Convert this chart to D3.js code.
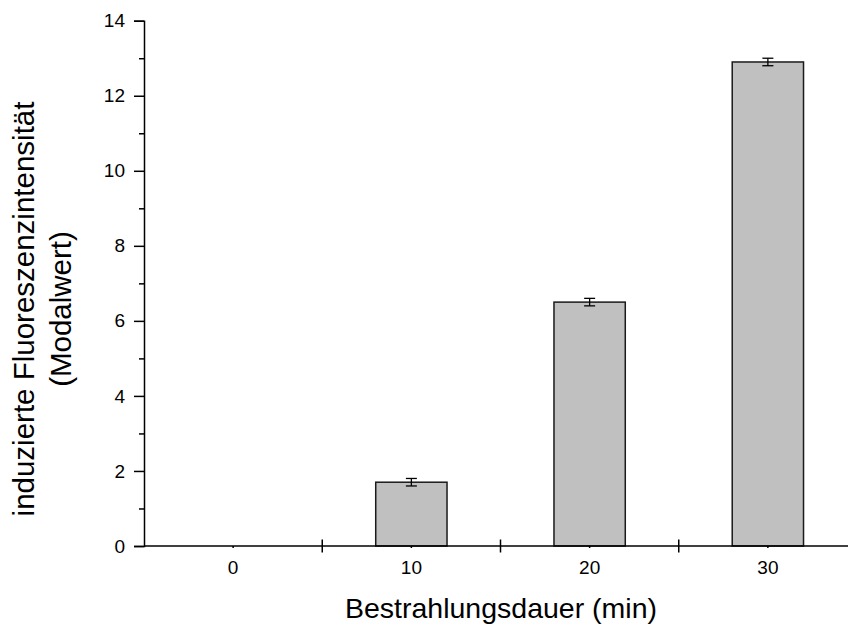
<!DOCTYPE html>
<html>
<head>
<meta charset="utf-8">
<script src="https://cdn.jsdelivr.net/npm/d3@7/dist/d3.min.js"></script>
<style>
  html, body { margin: 0; padding: 0; background: #fff; }
  svg { display: block; font-family: Arial, "Liberation Sans", sans-serif; }
</style>
</head>
<body>
<svg id="chart" width="848" height="625"></svg>
<script>
// Irradiation time (min) and induced fluorescence intensity (mode value)
const categories = ["0", "10", "20", "30"];
const values = [0, 1.7, 6.5, 12.9];
const errors = [0, 0.1, 0.1, 0.1];
const yTicks = [0, 2, 4, 6, 8, 10, 12, 14];
const yMinorTicks = [1, 3, 5, 7, 9, 11, 13];

const svg = d3.select("#chart");
const plotLeft = 144, plotRight = 857, plotTop = 20.7, plotBottom = 546;

const x = d3.scaleBand().domain(categories).range([plotLeft, plotRight]).paddingInner(0).paddingOuter(0);
const y = d3.scaleLinear().domain([0, 14]).range([plotBottom, plotTop]);

const barW = x.bandwidth() * 0.4;
const data = categories.map((c, i) => ({ c, v: values[i], e: errors[i] }));

// bars
svg.append("g").selectAll("rect").data(data.filter(d => d.v > 0)).join("rect")
  .attr("x", d => x(d.c) + x.bandwidth() / 2 - barW / 2)
  .attr("y", d => y(d.v))
  .attr("width", barW)
  .attr("height", d => y(0) - y(d.v))
  .attr("fill", "#c0c0c0")
  .attr("stroke", "#1a1a1a")
  .attr("stroke-width", 1.5);

// error bars
const eg = svg.append("g").attr("stroke", "#000").attr("stroke-width", 1.3);
data.filter(d => d.v > 0).forEach(d => {
  const cx = x(d.c) + x.bandwidth() / 2;
  const y1 = y(d.v + d.e), y2 = y(d.v - d.e);
  eg.append("line").attr("x1", cx).attr("x2", cx).attr("y1", y1).attr("y2", y2);
  eg.append("line").attr("x1", cx - 5.5).attr("x2", cx + 5.5).attr("y1", y1).attr("y2", y1);
  eg.append("line").attr("x1", cx - 5.5).attr("x2", cx + 5.5).attr("y1", y2).attr("y2", y2);
});

// y axis with minor ticks
svg.append("g").attr("transform", `translate(${plotLeft},0)`)
  .call(d3.axisLeft(y).tickValues(yTicks).tickFormat(d3.format("d")).tickSize(10).tickPadding(9));
svg.append("g").attr("transform", `translate(${plotLeft},0)`)
  .call(d3.axisLeft(y).tickValues(yMinorTicks).tickFormat("").tickSize(5))
  .call(g => g.select(".domain").remove());

// x axis: category labels with small centre ticks
const xAxis = svg.append("g").attr("transform", `translate(0,${plotBottom})`)
  .call(d3.axisBottom(x).tickSize(2).tickPadding(13));
// boundary ticks crossing the axis
const bounds = d3.range(1, categories.length + 1).map(i => plotLeft + i * x.step());
svg.append("g").selectAll("line").data(bounds).join("line")
  .attr("x1", d => d).attr("x2", d => d)
  .attr("y1", plotBottom - 6.5).attr("y2", plotBottom + 6.5)
  .attr("stroke", "#000").attr("stroke-width", 1.5);

svg.selectAll(".domain").attr("stroke", "#000").attr("stroke-width", 1.5);
svg.selectAll(".tick line").attr("stroke", "#000").attr("stroke-width", 1.5);
svg.selectAll(".tick text").attr("fill", "#000").style("font-size", "19px")
  .style("font-family", "Arial, 'Liberation Sans', sans-serif");
xAxis.select(".domain").attr("d", `M${plotLeft},0H${plotRight}`);

// axis titles
svg.append("text")
  .attr("x", 501).attr("y", 618)
  .attr("text-anchor", "middle").style("font-size", "28.5px").attr("fill", "#000")
  .text("Bestrahlungsdauer (min)");

const yt = svg.append("text")
  .attr("transform", "translate(0,309) rotate(-90)")
  .attr("text-anchor", "middle").style("font-size", "29.5px").attr("fill", "#000");
yt.append("tspan").attr("x", 0).attr("y", 34).text("induzierte Fluoreszenzintensität");
yt.append("tspan").attr("x", 0).attr("y", 71).text("(Modalwert)");
</script>
</body>
</html>
